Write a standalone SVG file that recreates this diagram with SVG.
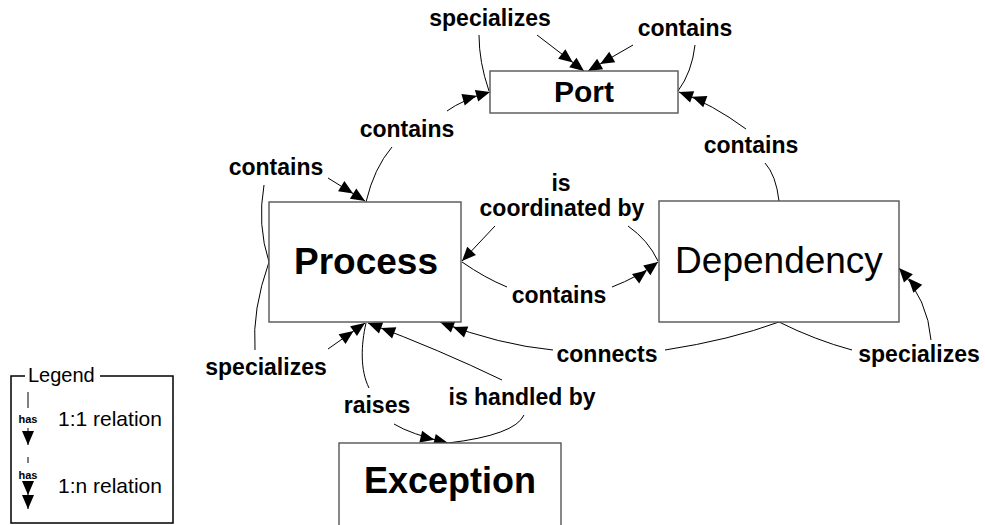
<svg xmlns="http://www.w3.org/2000/svg" width="985" height="525" viewBox="0 0 985 525">
<style>
.box{fill:#fff;stroke:#555;stroke-width:1.4}
.ln{fill:none;stroke:#000;stroke-width:1}
.lbl{font-family:"Liberation Sans",Arial,sans-serif;font-weight:bold;font-size:23px;text-anchor:middle;fill:#000}
.big{font-family:"Liberation Sans",Arial,sans-serif;text-anchor:middle;fill:#000}
.s{marker-end:url(#a1)}
.d{marker-end:url(#a2)}
</style>
<defs>
<marker id="a1" markerUnits="userSpaceOnUse" markerWidth="14" markerHeight="12" refX="14" refY="6" orient="auto" overflow="visible"><path d="M0,0 L14,6 L0,12 Z" fill="#000"/></marker>
<marker id="a2" markerUnits="userSpaceOnUse" markerWidth="28" markerHeight="12" refX="28" refY="6" orient="auto" overflow="visible"><path d="M0,0 L14,6 L0,12 Z M14,0 L28,6 L14,12 Z" fill="#000"/></marker>
</defs>
<rect width="985" height="525" fill="#fff"/>

<g id="connectors">
<!-- Process contains Port -->
<path class="ln" d="M366,202 Q374,168 392,147"/>
<path class="ln d" d="M447,111 Q462,100 490,92"/>
<!-- Port specializes Port -->
<path class="ln" d="M489,91 Q479,62 479,35"/>
<path class="ln d" d="M537,35 L584,71"/>
<!-- Port contains Port -->
<path class="ln" d="M678,91 Q692,72 695,45"/>
<path class="ln d" d="M633,45 L588,71"/>
<!-- Dependency contains Port -->
<path class="ln" d="M779,201 Q776,175 765,163"/>
<path class="ln d" d="M746,129 Q712,104 679,92"/>
<!-- Process contains Process -->
<path class="ln" d="M269,262 Q257,225 264,185"/>
<path class="ln d" d="M328,178 L365,201"/>
<!-- Process specializes Process -->
<path class="ln" d="M269,262 Q252,310 255,350"/>
<path class="ln d" d="M328,349 L365,323"/>
<!-- Process raises Exception -->
<path class="ln" d="M366,323 C361,345 360,370 369,388"/>
<path class="ln d" d="M394,424 Q410,434 448,443"/>
<!-- Exception is handled by Process -->
<path class="ln" d="M448,443 Q515,435 524,415"/>
<path class="ln d" d="M502,380 Q440,350 368,323"/>
<!-- Dependency connects Process -->
<path class="ln" d="M779,322 Q730,340 665,350"/>
<path class="ln d" d="M553,350 Q500,345 440,322"/>
<!-- Process is coordinated by Dependency -->
<path class="ln" d="M658,261 Q648,240 628,226"/>
<path class="ln s" d="M495,226 L462,261"/>
<!-- Process contains Dependency -->
<path class="ln" d="M462,262 Q485,278 507,287"/>
<path class="ln d" d="M612,287 Q638,277 658,262"/>
<!-- Dependency specializes Dependency -->
<path class="ln" d="M779,322 Q815,340 852,350"/>
<path class="ln d" d="M931,340 Q928,300 899,268"/>

<text class="lbl" x="490" y="26">specializes</text>
<text class="lbl" x="685" y="36">contains</text>
<text class="lbl" x="407" y="137">contains</text>
<text class="lbl" x="751" y="153">contains</text>
<text class="lbl" x="276" y="175">contains</text>
<text class="lbl" x="561" y="191">is</text>
<text class="lbl" x="562" y="216">coordinated by</text>
<text class="lbl" x="559" y="303">contains</text>
<text class="lbl" x="607" y="362">connects</text>
<text class="lbl" x="919" y="362">specializes</text>
<text class="lbl" x="266" y="375">specializes</text>
<text class="lbl" x="522" y="405">is handled by</text>
<text class="lbl" x="377" y="413">raises</text>
</g>

<g id="port">
<rect class="box" x="490" y="71" width="188" height="42"/>
<text class="big" x="584" y="102" font-size="30" font-weight="bold">Port</text>
</g>
<g id="process">
<rect class="box" x="269" y="202" width="192" height="120"/>
<text class="big" x="366" y="274" font-size="37" font-weight="bold">Process</text>
</g>
<g id="dependency">
<rect class="box" x="659" y="201" width="240" height="121"/>
<text class="big" x="779" y="273" font-size="37">Dependency</text>
</g>
<g id="exception">
<rect class="box" x="339" y="443" width="222" height="100"/>
<text class="big" x="450" y="493" font-size="36" font-weight="bold">Exception</text>
</g>

<g id="legend">
<path d="M25,376 L11,376 L11,523 L173,523 L173,376 L100,376" fill="none" stroke="#000" stroke-width="1.5"/>
<text x="28" y="382" font-family="'Liberation Sans',Arial,sans-serif" font-size="20">Legend</text>
<path class="ln" d="M28,392 L28,408"/>
<text x="28" y="423" font-family="'Liberation Sans',Arial,sans-serif" font-size="11" font-weight="bold" text-anchor="middle">has</text>
<path class="ln s" d="M28,428 L28,445"/>
<text x="58" y="426" font-family="'Liberation Sans',Arial,sans-serif" font-size="21">1:1 relation</text>
<path class="ln" d="M28,457 L28,463"/>
<text x="28" y="479" font-family="'Liberation Sans',Arial,sans-serif" font-size="11" font-weight="bold" text-anchor="middle">has</text>
<path class="ln d" d="M28,484 L28,509"/>
<text x="58" y="493" font-family="'Liberation Sans',Arial,sans-serif" font-size="21">1:n relation</text>
</g>
</svg>
